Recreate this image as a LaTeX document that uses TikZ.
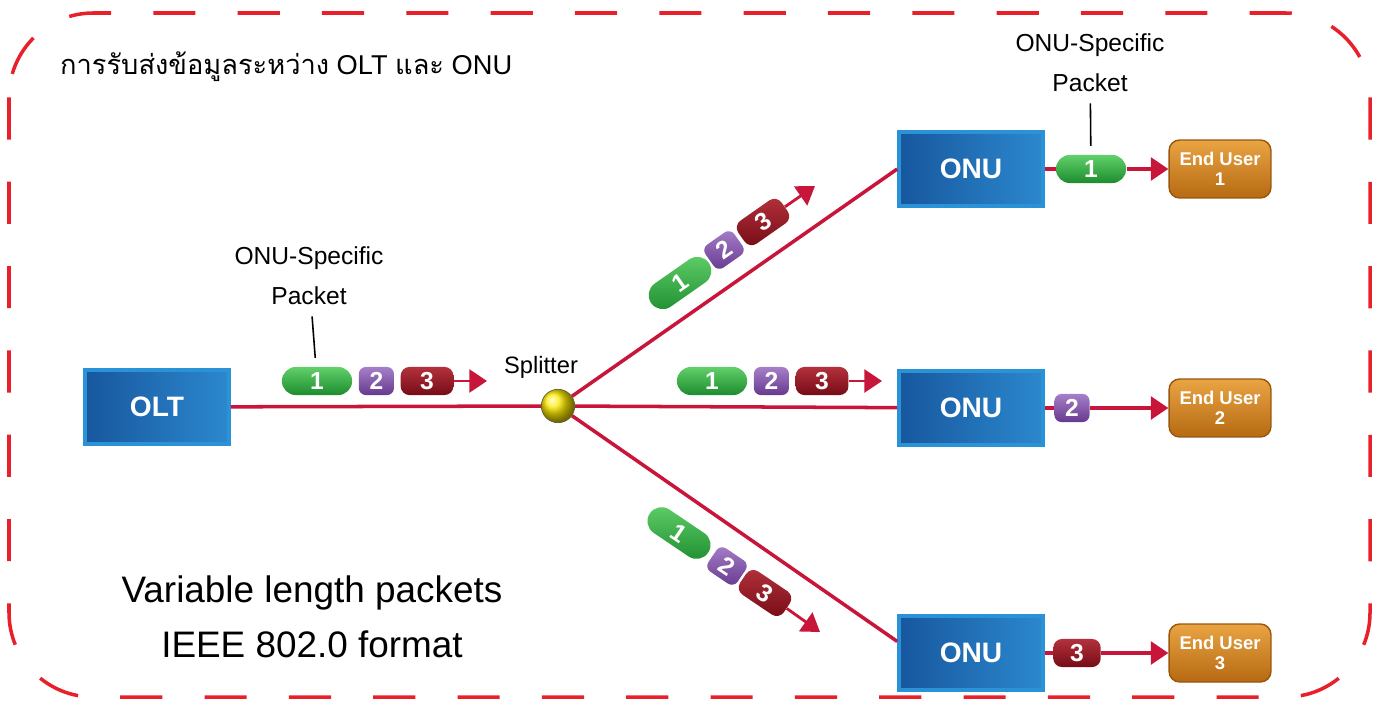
\documentclass[tikz,border=0pt]{standalone}
\usepackage{fontspec}
\setmainfont{Liberation Sans}
\newfontfamily\thaifont[Script=Thai]{Loma}
\usetikzlibrary{arrows.meta,positioning,calc}
\definecolor{dashred}{HTML}{E8202A}
\definecolor{fibre}{HTML}{C8163A}
\definecolor{rim}{HTML}{2A93D8}
\definecolor{deep}{HTML}{17579E}
\definecolor{mid}{HTML}{2C88CE}
\definecolor{grnT}{HTML}{62D06A}
\definecolor{grnB}{HTML}{1C8C2E}
\definecolor{vioT}{HTML}{A67FC9}
\definecolor{vioB}{HTML}{66398E}
\definecolor{redT}{HTML}{B3313C}
\definecolor{redB}{HTML}{760C16}
\definecolor{orT}{HTML}{E9A443}
\definecolor{orB}{HTML}{B66A12}
\definecolor{orE}{HTML}{99560C}

\begin{document}
\begin{tikzpicture}[x=0.02cm, y=-0.02cm, >={Triangle[length=10pt,width=13pt]},
  unit/.style={draw=rim, line width=2pt, left color=deep, right color=mid, minimum width=82pt, minimum height=42pt, text=white, font=\fontsize{16}{16}\selectfont\bfseries},
  user/.style={draw=orE, thick, rounded corners=6pt, top color=orT, bottom color=orB, minimum width=58pt, minimum height=33pt, inner sep=1pt, align=center, text=white, font=\fontsize{10.5}{11.5}\selectfont\bfseries},
  pk/.style={minimum height=16pt, inner sep=0pt, text=white, font=\fontsize{14}{14}\selectfont\bfseries},
  pg/.style={pk, rounded corners=8pt, minimum width=40pt, top color=grnT, bottom color=grnB},
  pv/.style={pk, rounded corners=4pt, minimum width=20pt, top color=vioT, bottom color=vioB},
  pr/.style={pk, rounded corners=5pt, minimum width=30pt, top color=redT, bottom color=redB},
  fib/.style={draw=fibre, line width=2pt},
  parr/.style={draw=fibre, line width=1.6pt, ->},
  note/.style={align=center, font=\fontsize{14}{22.7}\selectfont},
  ptr/.style={draw=black, line width=0.9pt, shorten <=3pt, shorten >=5pt}]
\useasboundingbox (0,0) rectangle (1381,706);
\draw[draw=dashred, line width=2pt, rounded corners=48pt, dash pattern=on 24pt off 24pt] (9,13) rectangle (1370,697);

\node[anchor=west, font=\fontsize{15.5}{16}\selectfont] (title) at (54,67) {{\thaifont การรับส่งข้อมูลระหว่าง} OLT {\thaifont และ} ONU};

% head end, splitter, ONUs
\node[unit] (olt) at (157,407) {OLT};
\node[unit] (onuA) at (971,169) {ONU};
\node[unit] (onuB) at (971,408) {ONU};
\node[unit] (onuC) at (971,653) {ONU};
\node[circle, minimum size=19pt, inner sep=0pt, ball color=yellow!85!orange, draw=olive!60!black, thin] (split) at (558,406) {};
\node[font=\fontsize{13.5}{14}\selectfont] (splab) at (541,367) {Splitter};

\draw[fib] (olt) -- (split);
\draw[fib] (split) -- (onuA.west);
\draw[fib] (split) -- (onuB);
\draw[fib] (split) -- ($(onuC.north west)!0.35!(onuC.south west)$);

% packets towards the splitter
\node[pg] (l1) at (317,381) {1};
\node[pv, right=1.2mm of l1] (l2) {2};
\node[pr, right=1.2mm of l2] (l3) {3};
\coordinate (lend) at (487,381);
\draw[parr] (l3) -- (lend);
\node[note] (lnote) at (309,276) {ONU-Specific\\Packet};
\draw[ptr] (lnote) -- (l1);

% packets on the three branches
\node[pg] (m1) at (712,381) {1};
\node[pv, right=1.2mm of m1] (m2) {2};
\node[pr, right=1.2mm of m2] (m3) {3};
\coordinate (mend) at (882,381);
\draw[parr] (m3) -- (mend);

\node[pg, rotate=35] (t1) at (680,283) {1};
\node[pv, rotate=35] (t2) at (724,250) {2};
\node[pr, rotate=35] (t3) at (763,222) {3};
\coordinate (tend) at (815,186);
\draw[parr] (t3) -- (tend);

\node[pg, rotate=-34] (b1) at (679,533) {1};
\node[pv, rotate=-34] (b2) at (727,566) {2};
\node[pr, rotate=-34] (b3) at (765,593) {3};
\coordinate (bend) at (820,632);
\draw[parr] (b3) -- (bend);

% ONU side
\node[pg] (oa) at (1091,169) {1};
\node[pv] (ob) at (1072,408) {2};
\node[pr, minimum width=27pt] (oc) at (1077,653) {3};
\node[user] (ua) at (1220,169) {End User\\1};
\node[user] (ub) at (1220,408) {End User\\2};
\node[user] (uc) at (1220,653) {End User\\3};
\draw[fib] (onuA) -- (oa); \draw[fib, ->] (oa) -- (ua);
\draw[fib] (onuB) -- (ob); \draw[fib, ->] (ob) -- (ub);
\draw[fib] (onuC) -- (oc); \draw[fib, ->] (oc) -- (uc);
\node[note] (rnote) at (1090,63) {ONU-Specific\\Packet};
\draw[ptr] (rnote) -- (oa);

\node[align=center, font=\fontsize{21}{31}\selectfont] (fmt) at (312,617) {Variable length packets\\IEEE 802.0 format};
\end{tikzpicture}
\end{document}
